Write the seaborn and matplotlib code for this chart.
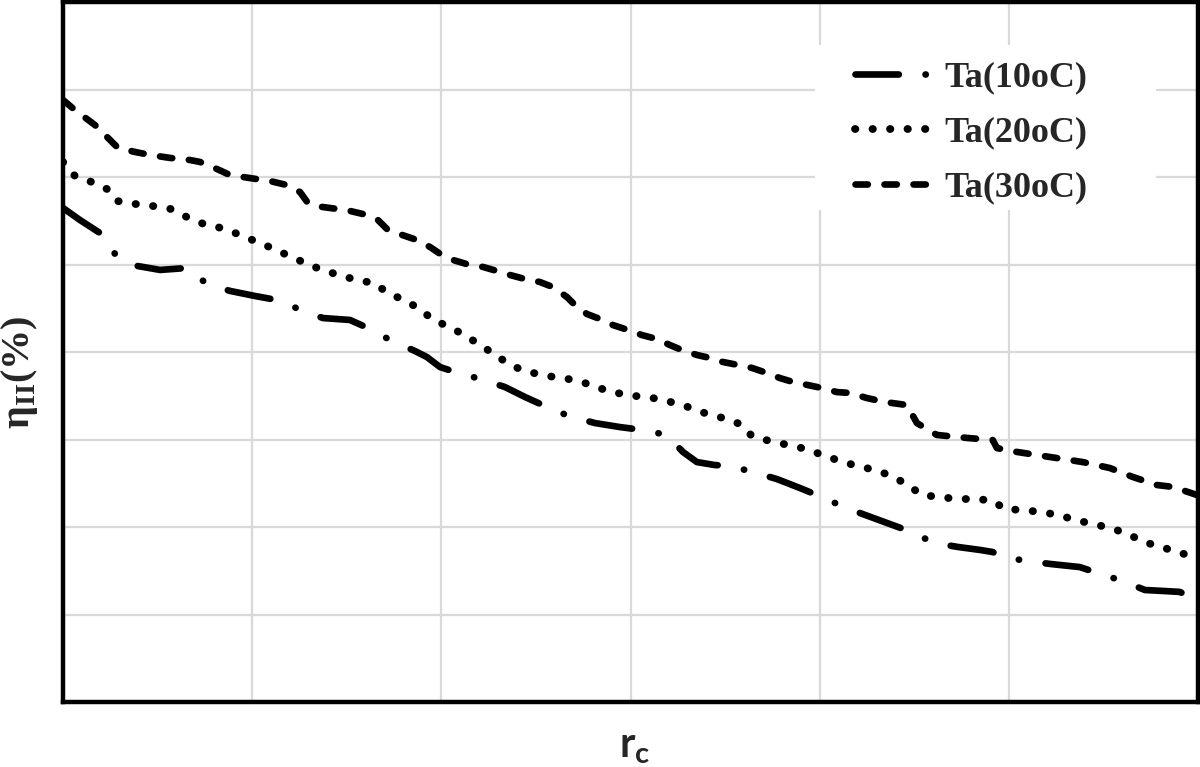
import numpy as np
import pandas as pd
import matplotlib
matplotlib.use("Agg")
import matplotlib.pyplot as plt
from matplotlib.patches import Rectangle
import seaborn as sns

# --- data (r_c on 0-6 grid units, eta_II in %) ---
x_10 = [0.000, 0.090, 0.211, 0.285, 0.396, 0.513, 0.655, 0.761, 0.883, 1.015,
        1.131, 1.258, 1.374, 1.517, 1.612, 1.739, 1.860, 1.924, 1.993, 2.072,
        2.204, 2.336, 2.442, 2.558, 2.674, 2.812, 2.944, 3.066, 3.192, 3.277,
        3.351, 3.446, 3.526, 3.647, 3.774, 3.895, 4.012, 4.128, 4.255, 4.371,
        4.487, 4.604, 4.730, 4.847, 4.915, 4.963, 5.095, 5.217, 5.375, 5.470,
        5.603, 5.719, 5.825, 5.904, 5.994]
eta_10 = [28.23, 27.54, 26.69, 25.43, 24.91, 24.69, 24.80, 23.89, 23.49, 23.20,
          22.97, 22.40, 21.94, 21.83, 21.37, 20.63, 20.06, 19.71, 19.14, 18.86,
          18.46, 18.00, 17.43, 16.86, 16.34, 15.94, 15.71, 15.54, 15.26, 14.29,
          13.71, 13.54, 13.49, 13.14, 12.74, 12.23, 11.71, 11.14, 10.63, 10.17,
          9.71, 9.09, 8.86, 8.69, 8.57, 8.29, 8.06, 7.89, 7.71, 7.37,
          6.91, 6.40, 6.34, 6.29, 5.83]

x_20 = [0.000, 0.063, 0.153, 0.233, 0.285, 0.381, 0.476, 0.571, 0.655, 0.745,
        0.835, 0.925, 1.015, 1.105, 1.195, 1.279, 1.369, 1.459, 1.554, 1.644,
        1.718, 1.802, 1.887, 1.956, 2.045, 2.130, 2.215, 2.294, 2.373, 2.463,
        2.558, 2.648, 2.743, 2.833, 2.928, 3.023, 3.118, 3.214, 3.303, 3.393,
        3.488, 3.578, 3.642, 3.737, 3.832, 3.927, 4.017, 4.107, 4.197, 4.292,
        4.382, 4.466, 4.540, 4.635, 4.730, 4.831, 4.921, 4.974, 5.069, 5.169,
        5.259, 5.354, 5.444, 5.539, 5.629, 5.714, 5.809, 5.899, 5.994]
eta_20 = [30.86, 30.06, 29.71, 29.31, 28.63, 28.46, 28.34, 28.17, 27.71, 27.31,
          27.09, 26.74, 26.34, 25.94, 25.49, 25.09, 24.69, 24.40, 24.11, 23.94,
          23.37, 22.97, 22.46, 21.83, 21.43, 20.91, 20.34, 19.77, 19.20, 18.86,
          18.63, 18.51, 18.29, 17.94, 17.66, 17.49, 17.37, 17.14, 16.86, 16.51,
          16.23, 15.89, 15.20, 14.91, 14.69, 14.46, 14.11, 13.77, 13.49, 13.26,
          12.91, 12.40, 11.83, 11.71, 11.60, 11.60, 11.49, 11.03, 10.97, 10.86,
          10.69, 10.40, 10.17, 9.94, 9.60, 9.14, 8.86, 8.51, 8.34]

x_30 = [0.000, 0.063, 0.169, 0.238, 0.291, 0.381, 0.460, 0.566, 0.671, 0.724,
        0.803, 0.883, 0.988, 1.094, 1.184, 1.253, 1.295, 1.369, 1.453, 1.517,
        1.607, 1.665, 1.718, 1.792, 1.871, 1.940, 2.003, 2.061, 2.151, 2.220,
        2.294, 2.363, 2.442, 2.521, 2.590, 2.664, 2.706, 2.770, 2.838, 2.907,
        2.986, 3.060, 3.140, 3.208, 3.272, 3.351, 3.420, 3.488, 3.568, 3.642,
        3.721, 3.790, 3.858, 3.938, 4.012, 4.091, 4.160, 4.249, 4.345, 4.461,
        4.514, 4.619, 4.778, 4.915, 4.937, 5.042, 5.217, 5.391, 5.534, 5.655,
        5.782, 5.867, 5.994]
eta_30 = [34.40, 33.83, 32.97, 32.23, 31.66, 31.43, 31.26, 31.09, 30.97, 30.86,
          30.51, 30.11, 29.94, 29.77, 29.54, 29.14, 28.51, 28.29, 28.17, 28.06,
          27.83, 27.54, 26.97, 26.69, 26.40, 26.00, 25.54, 25.26, 24.97, 24.86,
          24.63, 24.40, 24.17, 24.00, 23.71, 23.14, 22.69, 22.17, 21.89, 21.54,
          21.26, 20.97, 20.74, 20.40, 20.11, 19.83, 19.66, 19.43, 19.26, 19.09,
          18.80, 18.51, 18.29, 18.11, 17.94, 17.71, 17.66, 17.37, 17.14, 16.97,
          15.94, 15.26, 15.09, 14.97, 14.51, 14.29, 14.00, 13.71, 13.37, 12.86,
          12.40, 12.29, 11.83]

labels = ["Ta(10oC)", "Ta(20oC)", "Ta(30oC)"]

df = pd.concat([
    pd.DataFrame({"rc": x_10, "eta": eta_10, "series": labels[0]}),
    pd.DataFrame({"rc": x_20, "eta": eta_20, "series": labels[1]}),
    pd.DataFrame({"rc": x_30, "eta": eta_30, "series": labels[2]}),
], ignore_index=True)

# --- styling ---
sns.set_theme(style="white")
plt.rcParams["mathtext.fontset"] = "custom"
plt.rcParams["mathtext.rm"] = "Liberation Serif"
plt.rcParams["mathtext.bf"] = "Liberation Serif:bold"
plt.rcParams["mathtext.sf"] = "Lato:bold"

# dash lengths are in units of the line width
dash_styles = {
    labels[0]: (6.5, 4.0, 0.05, 4.0),   # long dash - dot
    labels[1]: (0.05, 2.2),             # round dots
    labels[2]: (1.85, 2.5),             # dashes
}

fig = plt.figure(figsize=(12, 7.67), dpi=100)
ax = fig.add_axes([63 / 1200, 1 - 702 / 767, 1135 / 1200, 700 / 767])

sns.lineplot(data=df, x="rc", y="eta", hue="series", style="series",
             hue_order=labels, style_order=labels,
             palette={l: "black" for l in labels}, dashes=dash_styles,
             estimator=None, sort=False, linewidth=4.8,
             dash_capstyle="round", solid_capstyle="round",
             legend=False, ax=ax, zorder=3)
# dots a little fatter than the dashes
ax.lines[1].set_linewidth(5.6)

ax.set_xlim(0, 6)
ax.set_ylim(0, 40)
ax.set_xticks(np.arange(0, 7, 1))
ax.set_yticks(np.arange(0, 45, 5))
ax.set_xticklabels([])
ax.set_yticklabels([])
ax.tick_params(length=0)
ax.set_xlabel("")
ax.set_ylabel("")
ax.set_axisbelow(True)
ax.grid(True, color="#d9d9d9", linewidth=1.6)
for s in ax.spines.values():
    s.set_color("black")
    s.set_linewidth(3.2)

# white legend background hiding the grid
ax.add_patch(Rectangle((0.6626, 0.703), 0.30, 0.236, transform=ax.transAxes,
                       facecolor="white", edgecolor="none", zorder=1))

leg = ax.legend(handles=ax.lines[:3], labels=labels, loc="upper left",
                bbox_to_anchor=(0.698, 0.915), frameon=False,
                borderpad=0, borderaxespad=0, handlelength=2.2,
                handletextpad=0.28, labelspacing=0.6,
                prop={"family": "Liberation Serif", "weight": "bold", "size": 26})

fig.text(19 / 1200, 1 - 372 / 767, r"η$_{\mathbf{II}}$(%)", rotation=90,
         ha="center", va="center", family="Liberation Serif",
         fontweight="bold", fontsize=29)
fig.text(635 / 1200, 1 - 747 / 767, r"r$_{\mathsf{c}}$", ha="center",
         va="center", family="Lato", fontweight="bold", fontsize=30)

fig.savefig("out.png", dpi=100, facecolor="white")
